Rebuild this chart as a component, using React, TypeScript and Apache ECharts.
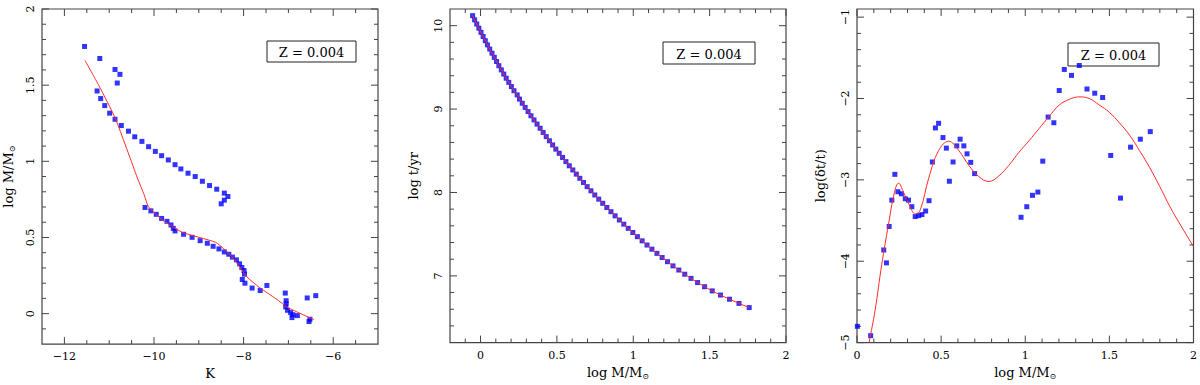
import React, { useEffect, useRef } from "react";
import * as echarts from "echarts";

// ---------- Panel 1: log M/Msun vs K ----------
const P1_POINTS: number[][] = [
  [-11.55, 1.754], [-11.21, 1.675], [-10.87, 1.603], [-10.76, 1.571], [-10.82, 1.514],
  [-11.27, 1.462], [-11.19, 1.412], [-11.1, 1.366], [-10.99, 1.316], [-10.87, 1.276],
  [-10.73, 1.235], [-10.57, 1.198], [-10.43, 1.161], [-10.27, 1.131], [-10.12, 1.096],
  [-9.97, 1.065], [-9.83, 1.037], [-9.68, 1.009], [-9.53, 0.978], [-9.4, 0.95],
  [-9.24, 0.922], [-9.08, 0.9], [-8.92, 0.869], [-8.76, 0.841], [-8.6, 0.817],
  [-8.43, 0.791], [-8.35, 0.769], [-8.43, 0.745], [-8.5, 0.721],
  [-10.2, 0.697], [-10.07, 0.675], [-9.95, 0.652], [-9.83, 0.625], [-9.71, 0.606],
  [-9.62, 0.582], [-9.57, 0.56], [-9.53, 0.543], [-9.34, 0.521], [-9.15, 0.501],
  [-8.97, 0.479], [-8.81, 0.462], [-8.68, 0.442], [-8.55, 0.425], [-8.43, 0.405],
  [-8.33, 0.39], [-8.25, 0.371], [-8.16, 0.353], [-8.09, 0.327], [-8.04, 0.303],
  [-7.99, 0.283], [-7.98, 0.259], [-8.03, 0.224], [-7.97, 0.2], [-7.81, 0.168],
  [-7.63, 0.152], [-7.48, 0.185], [-7.07, 0.135], [-7.05, 0.085], [-7.05, 0.065],
  [-7.06, 0.044], [-7.02, 0.022], [-6.95, 0.007], [-6.9, -0.007], [-6.92, -0.026],
  [-6.8, -0.013], [-6.58, 0.103], [-6.39, 0.118], [-6.52, -0.037], [-6.54, -0.052],
];
const P1_FIT: number[][] = [
  [-11.54, 1.662], [-11.23, 1.497], [-10.86, 1.279], [-10.37, 0.89], [-10.22, 0.78],
  [-10.13, 0.705], [-10.0, 0.665], [-9.82, 0.616], [-9.37, 0.534], [-8.63, 0.469],
  [-8.44, 0.425], [-8.25, 0.371], [-7.92, 0.24], [-7.66, 0.175], [-7.28, 0.098],
  [-6.99, 0.037], [-6.43, -0.039],
];
const P1_X_LABELS = [-12, -10, -8, -6];
const P1_Y_LABELS = [0, 0.5, 1, 1.5, 2];

// ---------- Panel 2: log t/yr vs log M/Msun ----------
const P2_POINTS: number[][] = [
  [-0.052, 10.12], [-0.039, 10.07], [-0.025, 10.02], [-0.011, 9.97], [0.003, 9.92],
  [0.017, 9.87], [0.031, 9.82], [0.045, 9.77], [0.06, 9.72], [0.075, 9.67],
  [0.09, 9.62], [0.105, 9.57], [0.12, 9.52], [0.136, 9.47], [0.152, 9.42],
  [0.168, 9.37], [0.185, 9.32], [0.202, 9.27], [0.219, 9.22], [0.24, 9.17],
  [0.255, 9.12], [0.273, 9.07], [0.292, 9.02], [0.311, 8.97], [0.33, 8.92],
  [0.35, 8.87], [0.37, 8.82], [0.39, 8.77], [0.41, 8.72], [0.43, 8.67],
  [0.451, 8.62], [0.472, 8.57], [0.493, 8.52], [0.515, 8.47], [0.537, 8.42],
  [0.559, 8.37], [0.581, 8.32], [0.604, 8.27], [0.627, 8.22], [0.65, 8.17],
  [0.674, 8.12], [0.698, 8.07], [0.723, 8.02], [0.748, 7.97], [0.774, 7.92],
  [0.8, 7.87], [0.827, 7.82], [0.854, 7.77], [0.881, 7.72], [0.909, 7.67],
  [0.938, 7.62], [0.967, 7.57], [0.997, 7.52], [1.027, 7.47], [1.058, 7.42],
  [1.09, 7.37], [1.122, 7.32], [1.155, 7.27], [1.189, 7.22], [1.224, 7.17],
  [1.26, 7.12], [1.298, 7.07], [1.337, 7.02], [1.378, 6.97], [1.421, 6.92],
  [1.467, 6.87], [1.517, 6.82], [1.571, 6.77], [1.63, 6.72], [1.692, 6.67],
  [1.759, 6.62],
];
const P2_X_LABELS = [0, 0.5, 1, 1.5, 2];
const P2_Y_LABELS = [7, 8, 9, 10];

// ---------- Panel 3: log(dt/t) vs log M/Msun ----------
const P3_POINTS: number[][] = [
  [0.002, -4.8], [0.081, -4.915], [0.159, -3.862], [0.175, -4.02], [0.191, -3.573],
  [0.207, -3.249], [0.225, -2.932], [0.243, -3.146], [0.264, -3.171], [0.287, -3.232],
  [0.306, -3.249], [0.326, -3.33], [0.346, -3.451], [0.366, -3.44], [0.386, -3.427],
  [0.408, -3.383], [0.428, -3.256], [0.448, -2.78], [0.466, -2.362], [0.485, -2.305],
  [0.511, -2.48], [0.531, -2.61], [0.549, -3.017], [0.571, -2.78], [0.593, -2.582],
  [0.613, -2.5], [0.635, -2.582], [0.654, -2.68], [0.676, -2.785], [0.699, -2.923],
  [0.975, -3.46], [1.009, -3.33], [1.043, -3.19], [1.075, -3.15], [1.104, -2.77],
  [1.136, -2.228], [1.17, -2.298], [1.202, -1.902], [1.232, -1.643], [1.275, -1.716],
  [1.321, -1.594], [1.367, -1.883], [1.413, -1.935], [1.46, -1.988], [1.508, -2.7],
  [1.566, -3.224], [1.626, -2.598], [1.684, -2.5], [1.743, -2.407],
];
const P3_FIT: number[][] = [
  [0.055, -5.2], [0.072, -5.0], [0.107, -4.61], [0.147, -4.04], [0.187, -3.55],
  [0.223, -3.15], [0.247, -3.04], [0.276, -3.15], [0.316, -3.33], [0.346, -3.42],
  [0.376, -3.37], [0.426, -2.98], [0.485, -2.64], [0.545, -2.525], [0.605, -2.64],
  [0.664, -2.82], [0.724, -2.96], [0.784, -3.02], [0.844, -2.95], [0.903, -2.82],
  [0.963, -2.66], [1.022, -2.52], [1.082, -2.37], [1.142, -2.22], [1.202, -2.08],
  [1.262, -2.01], [1.321, -1.98], [1.38, -2.0], [1.44, -2.08], [1.5, -2.17],
  [1.56, -2.3], [1.62, -2.45], [1.679, -2.64], [1.74, -2.85], [1.799, -3.08],
  [1.86, -3.33], [1.93, -3.58], [2.0, -3.82],
];
const P3_X_LABELS = [0, 0.5, 1, 1.5, 2];
const P3_Y_LABELS = [-5, -4, -3, -2, -1];

const LEGEND_TEXT = "Z = 0.004";

const FONT = "DejaVu Serif";
const FRAME = "#444";
const BLUE = "#0000ff";
const RED = "#ff2a2a";
const MAJOR_LEN = 7;
const MINOR_LEN = 4;

function minorTicks(start: number, end: number, step: number, majors: number[]) {
  const out: number[] = [];
  const n = Math.round((end - start) / step);
  for (let i = 1; i < n; i++) {
    const v = Math.round((start + i * step) * 1000) / 1000;
    if (!majors.some((m) => Math.abs(m - v) < 1e-6)) out.push(v);
  }
  return out;
}

const fmt = (v: number) => String(v).replace("-", "\u2212");

function labelAxis(isX: boolean, gridIndex: number, min: number, max: number, majors: number[], name: string, nameGap: number) {
  return {
    type: "value",
    gridIndex,
    min,
    max,
    position: isX ? "bottom" : "left",
    splitLine: { show: false },
    axisLine: { show: false, onZero: false },
    axisTick: { show: false },
    axisLabel: {
      show: true,
      customValues: majors,
      formatter: fmt,
      fontFamily: FONT,
      fontSize: 11,
      color: "#000",
      margin: isX ? 7 : 6,
      rotate: isX ? 0 : 90,
    },
    name,
    nameLocation: "middle",
    nameGap,
    nameRotate: isX ? 0 : 90,
    nameTextStyle: {
      fontFamily: FONT,
      fontSize: 13,
      color: "#000",
      rich: { s: { fontFamily: FONT, fontSize: 8, color: "#000", padding: [8, 0, 0, 0] } },
    },
  };
}

// Tick marks drawn on all four sides, placed through the axes' own scales (api.coord).
function tickSeries(
  gridIndex: number,
  xr: [number, number],
  yr: [number, number],
  xMaj: number[],
  xMinStep: number,
  yMaj: number[],
  yMinStep: number
) {
  const data: number[][] = [];
  xMaj.forEach((v) => data.push([v, MAJOR_LEN, 0]));
  minorTicks(xr[0], xr[1], xMinStep, xMaj).forEach((v) => data.push([v, MINOR_LEN, 0]));
  yMaj.forEach((v) => data.push([v, MAJOR_LEN, 1]));
  minorTicks(yr[0], yr[1], yMinStep, yMaj).forEach((v) => data.push([v, MINOR_LEN, 1]));
  const style = { stroke: FRAME, lineWidth: 1 };
  return {
    type: "custom",
    xAxisIndex: gridIndex,
    yAxisIndex: gridIndex,
    data,
    silent: true,
    clip: false,
    z: 1,
    encode: { x: 0, y: 1 },
    renderItem: (params: any, api: any) => {
      const v = api.value(0);
      const len = api.value(1);
      const dim = api.value(2);
      if (dim === 0) {
        const b = api.coord([v, yr[0]]);
        const t = api.coord([v, yr[1]]);
        return {
          type: "group",
          children: [
            { type: "line", shape: { x1: b[0], y1: b[1], x2: b[0], y2: b[1] - len }, style },
            { type: "line", shape: { x1: t[0], y1: t[1], x2: t[0], y2: t[1] + len }, style },
          ],
        };
      }
      const l = api.coord([xr[0], v]);
      const r = api.coord([xr[1], v]);
      return {
        type: "group",
        children: [
          { type: "line", shape: { x1: l[0], y1: l[1], x2: l[0] + len, y2: l[1] }, style },
          { type: "line", shape: { x1: r[0], y1: r[1], x2: r[0] - len, y2: r[1] }, style },
        ],
      };
    },
  };
}

export default function App() {
  const ref = useRef<HTMLDivElement>(null);
  useEffect(() => {
    if (!ref.current) return;
    const chart = echarts.init(ref.current, undefined, { renderer: "svg" });
    const grids = [
      { left: 42, top: 9, width: 336, height: 336 },
      { left: 450, top: 9, width: 336, height: 336 },
      { left: 857, top: 9, width: 337, height: 336 },
    ].map((g) => ({ ...g, show: true, borderColor: FRAME, borderWidth: 1.2, backgroundColor: "transparent" }));

    const R1X: [number, number] = [-12.5, -5];
    const R1Y: [number, number] = [-0.2, 2];
    const R2X: [number, number] = [-0.2, 2];
    const R2Y: [number, number] = [6.2, 10.2];
    const R3X: [number, number] = [0, 2];
    const R3Y: [number, number] = [-5, -0.9];

    const xAxis = [
      labelAxis(true, 0, R1X[0], R1X[1], P1_X_LABELS, "K", 21),
      labelAxis(true, 1, R2X[0], R2X[1], P2_X_LABELS, "log M/M{s|\u2299}", 21),
      labelAxis(true, 2, R3X[0], R3X[1], P3_X_LABELS, "log M/M{s|\u2299}", 21),
    ];
    const yAxis = [
      labelAxis(false, 0, R1Y[0], R1Y[1], P1_Y_LABELS, "log M/M{s|\u2299}", 26),
      labelAxis(false, 1, R2Y[0], R2Y[1], P2_Y_LABELS, "log t/yr", 30),
      labelAxis(false, 2, R3Y[0], R3Y[1], P3_Y_LABELS, "log(\u03b4t/t)", 30),
    ];

    const scatter = (idx: number, data: number[][], size: number) => ({
      type: "scatter",
      xAxisIndex: idx,
      yAxisIndex: idx,
      data,
      symbol: "rect",
      symbolSize: size,
      itemStyle: { color: BLUE },
      z: 2,
    });
    const line = (idx: number, data: number[][], smooth: boolean | number) => ({
      type: "line",
      xAxisIndex: idx,
      yAxisIndex: idx,
      data,
      showSymbol: false,
      symbol: "none",
      smooth,
      clip: true,
      lineStyle: { color: RED, width: 1 },
      z: 3,
    });

    const legendBox = (x: number, y: number, w: number, h: number) => [
      { type: "rect", shape: { x, y, width: w, height: h }, style: { fill: "transparent", stroke: "#222", lineWidth: 1 }, z: 1 },
      {
        type: "text",
        x: x + w / 2,
        y: y + h / 2 + 1,
        style: { text: LEGEND_TEXT, fontFamily: FONT, fontSize: 13, fill: "#000", align: "center", verticalAlign: "middle" },
        z: 1,
      },
    ];

    chart.setOption({
      animation: false,
      textStyle: { fontFamily: FONT },
      grid: grids,
      xAxis,
      yAxis,
      series: [
        tickSeries(0, R1X, R1Y, P1_X_LABELS, 0.5, P1_Y_LABELS, 0.1),
        tickSeries(1, R2X, R2Y, P2_X_LABELS, 0.1, P2_Y_LABELS, 0.2),
        tickSeries(2, R3X, R3Y, P3_X_LABELS, 0.1, P3_Y_LABELS, 0.2),
        scatter(0, P1_POINTS, 5),
        line(0, P1_FIT, 0.2),
        scatter(1, P2_POINTS, 5),
        line(1, P2_POINTS, false),
        scatter(2, P3_POINTS, 5),
        line(2, P3_FIT, 0.4),
      ],
      graphic: [
        ...legendBox(267, 41, 89, 21),
        ...legendBox(663, 42, 92, 22),
        ...legendBox(1068, 43, 91, 23),
      ],
    });
    return () => chart.dispose();
  }, []);
  return <div ref={ref} style={{ position: "fixed", left: 0, top: 0, width: 1200, height: 385, background: "#fff" }} />;
}
